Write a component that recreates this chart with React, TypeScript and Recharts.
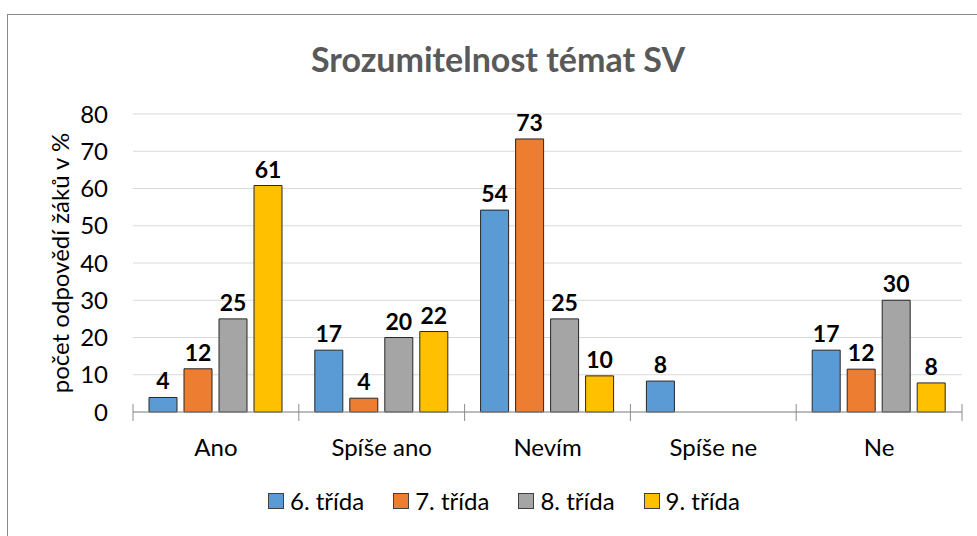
import { BarChart, Bar, XAxis, YAxis, CartesianGrid, LabelList, Legend } from "recharts";

const categories = ["Ano", "Spíše ano", "Nevím", "Spíše ne", "Ne"];
const grade6 = [3.9, 16.6, 54.2, 8.3, 16.6];
const grade7 = [11.6, 3.7, 73.3, null, 11.5];
const grade8 = [25, 20, 25, null, 30];
const grade9 = [60.8, 21.6, 9.7, null, 7.8];
const seriesNames = ["6. třída", "7. třída", "8. třída", "9. třída"];
const seriesColors = ["#5B9BD5", "#ED7D31", "#A5A5A5", "#FFC000"];
const yTicks = [0, 10, 20, 30, 40, 50, 60, 70, 80];

const data = categories.map((c, i) => ({
  name: c,
  g6: grade6[i],
  g7: grade7[i],
  g8: grade8[i],
  g9: grade9[i],
}));
const keys = ["g6", "g7", "g8", "g9"];

const FONT = "Lato, 'Open Sans', sans-serif";
const W = 977;
const H = 536;
const margin = { top: 114, right: 15, left: 0, bottom: 84 };
const Y_AXIS_W = 133;
const PLOT_W = W - margin.left - margin.right - Y_AXIS_W;

function CategoryTick(props: any) {
  const { x, y, payload, index } = props;
  const band = PLOT_W / categories.length;
  return (
    <g>
      <line x1={x - band / 2} x2={x - band / 2} y1={y - 8} y2={y + 9} stroke="#8c8c8c" />
      {index === categories.length - 1 && (
        <line x1={x + band / 2} x2={x + band / 2} y1={y - 8} y2={y + 9} stroke="#8c8c8c" />
      )}
      <text x={x} y={y + 44} textAnchor="middle" fontSize={24} fill="#000" fontFamily={FONT}>
        {payload.value}
      </text>
    </g>
  );
}

function LegendContent() {
  return (
    <div style={{ display: "flex", gap: 29, fontFamily: FONT, fontSize: 24, color: "#000" }}>
      {seriesNames.map((n, i) => (
        <div key={n} style={{ display: "flex", alignItems: "center" }}>
          <span
            style={{
              display: "inline-block",
              width: 14,
              height: 14,
              background: seriesColors[i],
              border: "1px solid #404040",
              marginRight: 6,
            }}
          />
          <span>{n}</span>
        </div>
      ))}
    </div>
  );
}

export default function App() {
  return (
    <div style={{ position: "absolute", left: 0, top: 0, width: W, height: H, overflow: "hidden", background: "#fff" }}>
      <div
        style={{
          position: "absolute",
          left: 7,
          top: 14,
          width: W,
          height: H,
          borderLeft: "1px solid #8b8b8b",
          borderTop: "1px solid #8b8b8b",
        }}
      />
      <div
        style={{
          position: "absolute",
          left: 498,
          top: 38,
          transform: "translateX(-50%)",
          whiteSpace: "nowrap",
          fontFamily: FONT,
          fontWeight: 700,
          fontSize: 34,
          color: "#595959",
        }}
      >
        Srozumitelnost témat SV
      </div>
      <BarChart width={W} height={H} data={data} margin={margin} barSize={28} barGap={7}>
        <CartesianGrid vertical={false} stroke="#d9d9d9" />
        <XAxis
          dataKey="name"
          height={40}
          tickLine={false}
          tickSize={0}
          tickMargin={0}
          axisLine={{ stroke: "#8c8c8c" }}
          tick={<CategoryTick />}
          interval={0}
        />
        <YAxis
          width={Y_AXIS_W}
          domain={[0, 80]}
          ticks={yTicks}
          axisLine={false}
          tickLine={false}
          tickMargin={19}
          tick={{ fontSize: 24, fill: "#000", fontFamily: FONT }}
          label={{
            value: "počet odpovědí žáků v %",
            angle: -90,
            position: "insideLeft",
            dx: 55,
            style: { textAnchor: "middle", fontSize: 24, fill: "#000", fontFamily: FONT },
          }}
        />
        <Legend
          verticalAlign="middle"
          content={<LegendContent />}
          wrapperStyle={{ left: 268, top: 486, width: 600 }}
        />
        {keys.map((k, i) => (
          <Bar
            key={k}
            dataKey={k}
            name={seriesNames[i]}
            fill={seriesColors[i]}
            stroke="#262626"
            strokeWidth={1}
            isAnimationActive={false}
          >
            <LabelList
              dataKey={k}
              position="top"
              offset={8}
              formatter={(v: any) => (v == null ? "" : Math.round(v))}
              style={{ fontSize: 23, fontWeight: 700, fill: "#000", fontFamily: FONT }}
            />
          </Bar>
        ))}
      </BarChart>
    </div>
  );
}
